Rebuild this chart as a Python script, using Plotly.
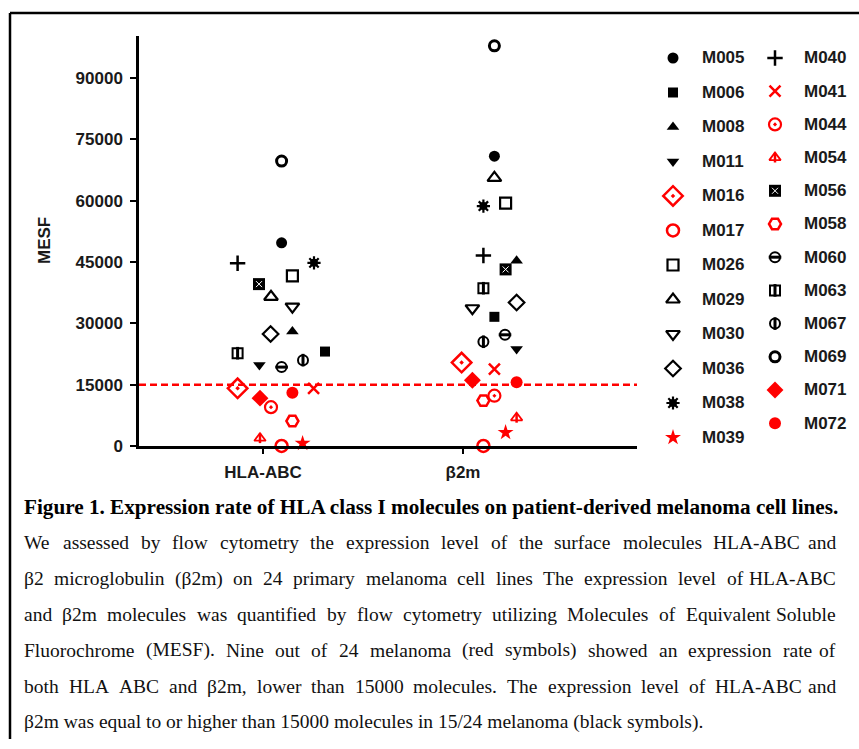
import plotly.graph_objects as go

# ---------------- data ----------------
patients = ["M005", "M006", "M008", "M011", "M016", "M017", "M026", "M029", "M030", "M036", "M038", "M039",
            "M040", "M041", "M044", "M054", "M056", "M058", "M060", "M063", "M067", "M069", "M071", "M072"]
hla_abc = [49700, 23100, 28000, 19800, 14100, 0, 41600, 36500, 34100, 27400, 44800, 650,
           44700, 14100, 9500, 1900, 39600, 6100, 19300, 22700, 21000, 69700, 11700, 13000]
b2m = [70900, 31600, 45300, 23700, 20400, 0, 59400, 65600, 33700, 35100, 58700, 3300,
       46600, 18800, 12300, 6900, 43200, 11100, 27200, 38600, 25500, 97900, 16100, 15600]
hla_jitter = [0.093, 0.31, 0.147, -0.018, -0.127, 0.093, 0.147, 0.04, 0.147, 0.038, 0.255, 0.198,
              -0.127, 0.253, 0.04, -0.015, -0.02, 0.147, 0.093, -0.127, 0.2, 0.093, -0.015, 0.147]
b2m_jitter = [0.157, 0.157, 0.268, 0.268, -0.007, 0.102, 0.213, 0.157, 0.047, 0.268, 0.102, 0.213,
              0.102, 0.157, 0.157, 0.268, 0.213, 0.102, 0.21, 0.102, 0.102, 0.157, 0.047, 0.268]
categories = ["HLA-ABC", "β2m"]
threshold = 15000
y_ticks = [0, 15000, 30000, 45000, 60000, 75000, 90000]
y_tick_labels = ["0", "15000", "30000", "45000", "60000", "75000", "90000"]
y_title = "MESF"
caption_title = "Figure 1. Expression rate of HLA class I molecules on patient-derived melanoma cell lines."
caption_lines = [
    "We assessed by flow cytometry the expression level of the surface molecules HLA-ABC and",
    "β2 microglobulin (β2m) on 24 primary melanoma cell lines The expression level of HLA-ABC",
    "and β2m molecules was quantified by flow cytometry utilizing Molecules of Equivalent Soluble",
    "Fluorochrome (MESF). Nine out of 24 melanoma (red symbols) showed an expression rate of",
    "both HLA ABC and β2m, lower than 15000 molecules. The expression level of HLA-ABC and",
    "β2m was equal to or higher than 15000 molecules in 15/24 melanoma (black symbols).",
]

# ---------------- styles ----------------
K = "#000000"
R = "#ff0000"
# each style: list of layers (symbol, color, size, line_color, line_width)
styles = {
    "M005": [("circle", K, 11, K, 0)],
    "M006": [("square", K, 10, K, 0)],
    "M008": [("triangle-up", K, 11, K, 0)],
    "M011": [("triangle-down", K, 11, K, 0)],
    "M016": [("diamond-open-dot", R, 15, R, 2.5)],
    "M017": [("circle-open", R, 12, R, 2.5)],
    "M026": [("square-open", K, 11, K, 2.2)],
    "M029": [("triangle-up-open", K, 12, K, 2.2)],
    "M030": [("triangle-down-open", K, 12, K, 2.2)],
    "M036": [("diamond-open", K, 12, K, 2.2)],
    "M038": [("circle", K, 8, K, 0), ("asterisk-open", K, 11, K, 2.2)],
    "M039": [("star", R, 12, R, 0)],
    "M040": [("cross-thin-open", K, 11, K, 2.5)],
    "M041": [("x-thin-open", R, 11, R, 2.5)],
    "M044": [("circle-open-dot", R, 12, R, 2.2)],
    "M054": [("triangle-up-open", R, 10, R, 1.8), ("line-ns-open", R, 7, R, 2.5)],
    "M056": [("square", K, 12, K, 0), ("x-thin-open", "#ffffff", 6, "#ffffff", 1)],
    "M058": [("hexagon2-open", R, 12, R, 2.5)],
    "M060": [("circle-open", K, 10, K, 2), ("line-ew-open", K, 9, K, 3)],
    "M063": [("square-open", K, 10, K, 2), ("line-ns-open", K, 9, K, 3)],
    "M067": [("circle-open", K, 10, K, 2), ("line-ns-open", K, 9, K, 3)],
    "M069": [("circle-open", K, 10, K, 3)],
    "M071": [("diamond", R, 13, R, 0)],
    "M072": [("circle", R, 12, R, 0)],
}

W, H = 859, 749
YC = 1.0135  # vertical calibration factor for layout pixel positions


def py(v):
    """pixel-from-top -> paper y"""
    return 1 - (v * YC) / H


fig = go.Figure()


def add_layers(name, xs, ys, xaxis="x", yaxis="y"):
    for sym, col, size, lcol, lw in styles[name]:
        fig.add_trace(go.Scatter(
            x=xs, y=ys, mode="markers", name=name, showlegend=False,
            xaxis=xaxis, yaxis=yaxis, cliponaxis=False, hoverinfo="skip",
            marker=dict(symbol=sym, color=col, size=size,
                        line=dict(color=lcol, width=lw)),
        ))


for i, p in enumerate(patients):
    add_layers(p, [0 + hla_jitter[i], 1 + b2m_jitter[i]], [hla_abc[i], b2m[i]])

# ---------------- legend (manual two-column) ----------------
annotations = []
for i, p in enumerate(patients):
    col, row = divmod(i, 12)
    mx = 673 + col * 102
    my = (58 + row * (34.5 if col == 0 else 33.2)) * YC
    add_layers(p, [mx], [my], xaxis="x2", yaxis="y2")
    annotations.append(dict(
        x=(mx + 27) / W, y=1 - my / H, xref="paper", yref="paper",
        xanchor="left", yanchor="middle", text=p, showarrow=False,
        font=dict(family="Liberation Sans", size=17, color="#1a1a1a", weight="bold"),
    ))

# y title
annotations.append(dict(
    x=45 / W, y=py(241), xref="paper", yref="paper", text=y_title,
    textangle=-90, showarrow=False, xanchor="center", yanchor="middle",
    font=dict(family="Liberation Sans", size=17, color="#1a1a1a", weight="bold"),
))

# caption (title + justified body, Times metrics for word placement)
annotations.append(dict(
    x=22 / W, y=py(507), xref="paper", yref="paper", text="<b>" + caption_title + "</b>",
    showarrow=False, xanchor="left", yanchor="middle",
    font=dict(family="Liberation Serif", size=21.2, color="#000000"),
))

TW = {' ': 250, 'a': 444, 'b': 500, 'c': 444, 'd': 500, 'e': 444, 'f': 333, 'g': 500, 'h': 500,
      'i': 278, 'j': 278, 'k': 500, 'l': 278, 'm': 778, 'n': 500, 'o': 500, 'p': 500, 'q': 500,
      'r': 333, 's': 389, 't': 278, 'u': 500, 'v': 500, 'w': 722, 'x': 500, 'y': 500, 'z': 444,
      'A': 722, 'B': 667, 'C': 667, 'D': 722, 'E': 611, 'F': 556, 'G': 722, 'H': 722, 'I': 333,
      'J': 389, 'K': 722, 'L': 611, 'M': 889, 'N': 722, 'O': 722, 'P': 556, 'Q': 722, 'R': 667,
      'S': 556, 'T': 611, 'U': 722, 'V': 722, 'W': 944, 'X': 722, 'Y': 722, 'Z': 611,
      '(': 333, ')': 333, '.': 250, ',': 250, '-': 333, '/': 278, 'β': 500}
BODY_SIZE = 19.5
LEFT, RIGHT = 22, 838


def word_w(w):
    return sum(TW.get(c, 500) for c in w) / 1000 * BODY_SIZE


body_font = dict(family="Liberation Serif", size=BODY_SIZE, color="#111111")
for k, line in enumerate(caption_lines):
    yy = py(543 + 35.8 * k)
    words = line.split(" ")
    if k == len(caption_lines) - 1:
        annotations.append(dict(x=LEFT / W, y=yy, xref="paper", yref="paper", text=line,
                                showarrow=False, xanchor="left", yanchor="middle", font=body_font))
        continue
    widths = [word_w(w) for w in words]
    gap = (RIGHT - LEFT - sum(widths)) / (len(words) - 1)
    xpos = LEFT
    for j, w in enumerate(words):
        last = j == len(words) - 1
        annotations.append(dict(x=(RIGHT if last else xpos) / W, y=yy, xref="paper", yref="paper",
                                text=w, showarrow=False, xanchor="right" if last else "left",
                                yanchor="middle", font=body_font))
        xpos += widths[j] + gap

# frame around the figure panel: top and left edges only (others are beyond the page)
shapes = [
    dict(type="line", xref="x domain", yref="y", x0=0, x1=1, y0=threshold, y1=threshold,
         line=dict(color=R, width=2.5, dash="7px,4px"), layer="below"),
    dict(type="line", xref="paper", yref="paper", x0=10 / W, x1=1, y0=py(13), y1=py(13),
         line=dict(color="#000000", width=2.5)),
    dict(type="line", xref="paper", yref="paper", x0=10 / W, x1=10 / W, y0=0, y1=py(13),
         line=dict(color="#000000", width=2.5)),
]

tickfont = dict(family="Liberation Sans", size=17, color="#1a1a1a", weight="bold")
fig.update_layout(
    width=W, height=H, autosize=False,
    margin=dict(l=0, r=0, t=0, b=0),
    paper_bgcolor="white", plot_bgcolor="rgba(0,0,0,0)",
    showlegend=False,
    xaxis=dict(domain=[139 / W, 637 / W], range=[-0.62, 1.87], tickvals=[0, 1], ticktext=categories,
               showline=True, linewidth=2.5, linecolor="black", ticks="outside", ticklen=5,
               tickwidth=2, tickcolor="black", showgrid=False, zeroline=False, tickfont=tickfont,
               anchor="y", fixedrange=True, ticklabelstandoff=4),
    yaxis=dict(domain=[py(446), py(36)], range=[0, 100300], tickvals=y_ticks,
               ticktext=y_tick_labels,
               showline=True, linewidth=2.5, linecolor="black", ticks="outside", ticklen=6,
               tickwidth=2, tickcolor="black", showgrid=False, zeroline=False, tickfont=tickfont,
               anchor="x", fixedrange=True, ticklabelstandoff=4),
    xaxis2=dict(domain=[0, 1], range=[0, W], visible=False, anchor="y2", fixedrange=True),
    yaxis2=dict(domain=[0, 1], range=[H, 0], visible=False, anchor="x2", fixedrange=True),
    annotations=annotations,
    shapes=shapes,
)

fig.write_html("out.html")
